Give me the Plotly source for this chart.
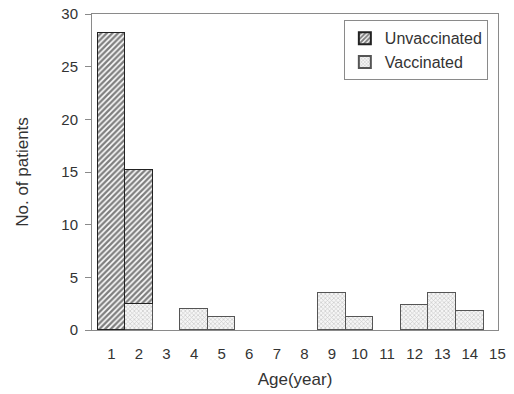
import plotly.graph_objects as go

ages = [1, 2, 3, 4, 5, 6, 7, 8, 9, 10, 11, 12, 13, 14]
unvaccinated = [28.2, 12.7, None, None, None, None, None, None, None, None, None, None, None, None]
vaccinated = [None, 2.5, None, 2.0, 1.2, None, None, None, 3.5, 1.2, None, 2.4, 3.5, 1.8]
tick_ages = list(range(1, 16))
tick_labels = [str(a) for a in tick_ages]

FONT = "Liberation Sans, Arial, sans-serif"
TXT = "#333333"
AX = "#8a8a8a"

fig = go.Figure()
fig.add_trace(go.Bar(
    x=ages, y=vaccinated, name="Vaccinated", width=1,
    marker=dict(color="white",
                line=dict(color="#555555", width=1),
                pattern=dict(shape="x", size=3, solidity=0.4,
                             fgcolor="#9a9a9a", bgcolor="#f6f6f6")),
    legendrank=2,
))
fig.add_trace(go.Bar(
    x=ages, y=unvaccinated, name="Unvaccinated", width=1,
    marker=dict(color="white",
                line=dict(color="#222222", width=1),
                pattern=dict(shape="/", size=4, solidity=0.6,
                             fgcolor="#000000", bgcolor="white")),
    legendrank=1,
))

fig.update_layout(
    width=514, height=394,
    margin=dict(l=92, r=16, t=14, b=64),
    barmode="stack", bargap=0,
    plot_bgcolor="white", paper_bgcolor="white",
    font=dict(family=FONT, size=15, color=TXT),
    showlegend=True,
    legend=dict(x=0.975, y=0.98, xanchor="right", yanchor="top",
                bordercolor=AX, borderwidth=1, bgcolor="white",
                font=dict(size=16, color=TXT),
                itemsizing="constant", tracegroupgap=0,
                traceorder="normal", itemwidth=30),
    xaxis=dict(range=[0.3, 15.02], tickmode="array",
               tickvals=tick_ages, ticktext=tick_labels,
               showline=True, linecolor=AX, linewidth=1, mirror=True,
               showgrid=False, zeroline=False, ticks="",
               ticklabelstandoff=10, ticklabeloverflow="allow",
               tickfont=dict(size=15, color=TXT),
               title=dict(text="Age(year)", font=dict(size=17, color=TXT),
                          standoff=12),
               automargin=False),
    yaxis=dict(range=[0, 30], tickmode="linear", tick0=0, dtick=5,
               showline=True, linecolor=AX, linewidth=1, mirror=True,
               showgrid=False, zeroline=False,
               ticks="outside", ticklen=6, tickcolor=AX,
               ticklabelstandoff=4, ticklabeloverflow="allow",
               tickfont=dict(size=15, color=TXT),
               title=dict(text="No. of patients", font=dict(size=17, color=TXT),
                          standoff=28),
               automargin=False),
)

fig.write_html("out.html",
               config={"displayModeBar": False},
               post_script="document.body.style.margin='0';document.body.style.padding='0';")
